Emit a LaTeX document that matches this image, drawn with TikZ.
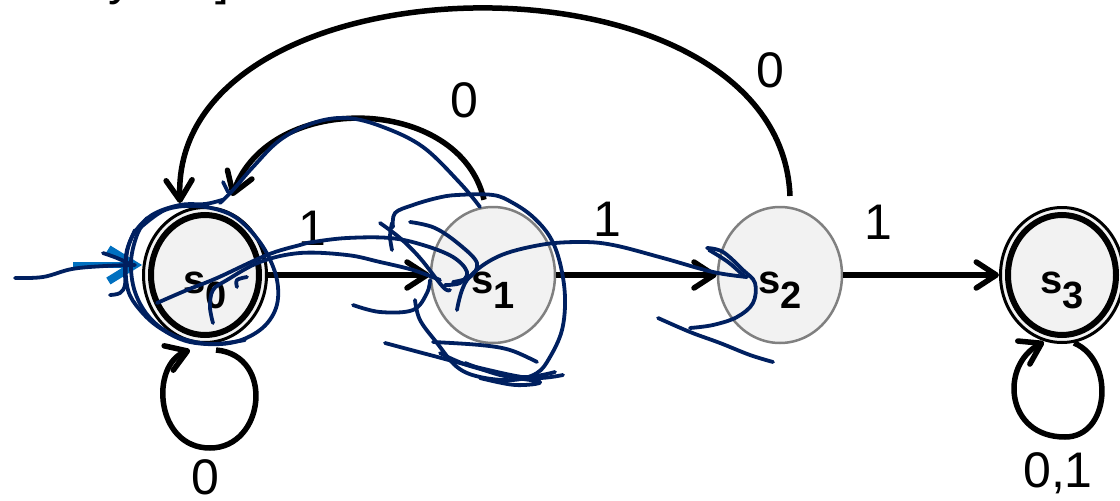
\documentclass[tikz,border=0pt]{standalone}
\usepackage{fontspec}
\setmainfont{Liberation Sans}
\usetikzlibrary{arrows.meta,shapes.geometric}
\definecolor{stfill}{HTML}{F2F2F2}
\definecolor{stgray}{HTML}{808080}
\definecolor{navy}{HTML}{002060}
\definecolor{startblue}{HTML}{0070C0}
\begin{document}
\begin{tikzpicture}[x=1pt,y=-1pt,
  plainstate/.style={ellipse, minimum width=124pt, minimum height=136pt, inner sep=0pt, draw=stgray, line width=2.5pt, fill=stfill},
  acceptstate/.style={ellipse, minimum width=123pt, minimum height=135pt, inner sep=0pt, draw=black, line width=3pt, fill=stfill},
  innerring/.style={draw=black, line width=6pt},
  statelbl/.style={font=\bfseries\fontsize{40}{40}\selectfont, inner sep=0pt},
  edgelbl/.style={font=\fontsize{50}{50}\selectfont, inner sep=0pt},
  edge/.style={line width=5.5pt, -{Straight Barb[length=20pt,width=26pt,round]}},
  scrib/.style={navy, line width=3.8pt, line cap=round, line join=round},
]
\useasboundingbox (0,0) rectangle (1120,501);
\clip (0,0) rectangle (1120,501);

% fragments of text cut off at the top
\node[edgelbl, anchor=base] (fy) at (121,-6) {y};
\node[edgelbl, anchor=base] (fb) at (222,-6) {]};

% states
\node[acceptstate] (s0) at (205,275) {};
\node[plainstate]  (s1) at (493,275) {};
\node[plainstate]  (s2) at (780,275) {};
\node[acceptstate] (s3) at (1062,275) {};
\draw[innerring] (s0.center) ellipse [x radius=54pt, y radius=60pt];
\draw[innerring] (s3.center) ellipse [x radius=54pt, y radius=60pt];

\node[statelbl] (l0) at ([yshift=-15pt]s0.center) {s\raisebox{-15pt}{\fontsize{38}{38}\selectfont 0}};
\node[statelbl] (l1) at ([yshift=-15pt]s1.center) {s\raisebox{-15pt}{\fontsize{38}{38}\selectfont 1}};
\node[statelbl] (l2) at ([yshift=-15pt]s2.center) {s\raisebox{-15pt}{\fontsize{38}{38}\selectfont 2}};
\node[statelbl] (l3) at ([yshift=-15pt]s3.center) {s\raisebox{-15pt}{\fontsize{38}{38}\selectfont 3}};

% transitions
\draw[edge] (s0) -- (s1);
\draw[edge] (s1) -- (s2);
\draw[edge] (s2) -- (s3);
\draw[edge] ([xshift=-9pt,yshift=6pt]s1.north) .. controls (460,95) and (270,90) .. ([xshift=27pt,yshift=79pt]s0.center);
\draw[edge] ([xshift=10pt,yshift=79pt]s2.center) .. controls (780,-60) and (170,-50) .. ([xshift=-25pt,yshift=72pt]s0.center);
\draw[edge] ([xshift=11pt,yshift=-75pt]s0.center) .. controls (275,355) and (265,448) .. (210,448) .. controls (155,448) and (150,365) .. ([xshift=-15pt,yshift=-75pt]s0.center);
\draw[edge] ([xshift=12pt,yshift=-68pt]s3.center) .. controls (1115,360) and (1110,437) .. (1065,437) .. controls (1005,437) and (1000,365) .. ([xshift=-18pt,yshift=-67pt]s3.center);

% transition labels
\node[edgelbl] (e01) at (312,228) {1};
\node[edgelbl] (e12) at (607,219) {1};
\node[edgelbl] (e23) at (878,222) {1};
\node[edgelbl] (e10) at (464,100) {0};
\node[edgelbl] (e20) at (770,70) {0};
\node[edgelbl] (e00) at (205,477) {0};
\node[edgelbl] (e33) at (1058,473) {0,1};

% initial arrow
\coordinate (init) at (73,265);
\draw[startblue, line width=6pt, -{Straight Barb[length=26pt,width=32pt,line width=8pt]}] (init) -- ([yshift=10pt]s0.west);

% handwritten scribbles
\draw[scrib] plot[smooth, tension=0.6] coordinates {(15,278) (43,277) (72,269) (105,266) (135,265)};
\draw[scrib] plot[smooth, tension=0.6] coordinates {(103,253) (117,258) (130,264)};
\draw[scrib] plot[smooth, tension=0.6] coordinates {(110,295) (120,293) (125,285) (125,270) (127,250) (135,230)};
\draw[scrib] plot[smooth, tension=0.6] coordinates {(222,200) (205,204) (180,205) (152,215) (133,235) (126,260) (128,290) (140,310) (160,328) (190,342) (230,343) (260,330) (276,308) (277,280) (265,250) (245,225) (225,212) (195,206) (165,210) (140,228)};
\draw[scrib] plot[smooth, tension=0.6] coordinates {(147,218) (137,235) (131,262) (135,292) (150,318) (175,336) (210,344) (245,340)};
\draw[scrib] plot[smooth, tension=0.6] coordinates {(157,303) (187,290) (217,278) (267,255) (300,245) (313,242) (347,238) (390,238) (423,245) (453,257) (467,272) (460,283) (445,285)};
\draw[scrib] plot[smooth, tension=0.6] coordinates {(213,323) (210,307) (213,290) (227,280) (260,262) (300,253) (347,255) (380,262) (413,270) (440,280)};
\draw[scrib] plot[smooth, tension=0.6] coordinates {(237,287) (237,280) (247,277)};
\draw[scrib] plot[smooth, tension=0.6] coordinates {(480,207) (460,183) (423,147) (383,127) (347,118) (313,123) (280,140) (253,167) (233,190) (220,203)};
\draw[scrib] plot[smooth, tension=0.6] coordinates {(223,182) (228,192)};
\draw[scrib] plot[smooth, tension=0.6] coordinates {(393,227) (395,213) (413,205) (437,198) (457,195) (493,195) (513,203) (533,217) (550,237) (560,263) (565,297) (562,330) (550,357) (537,373) (513,380) (480,377) (457,367) (437,343) (420,320) (415,300)};
\draw[scrib] plot[smooth, tension=0.6] coordinates {(392,223) (390,236) (392,250)};
\draw[scrib] plot[smooth, tension=0.6] coordinates {(385,343) (430,355) (480,368) (530,378) (563,375)};
\draw[scrib] plot[smooth, tension=0.6] coordinates {(433,342) (480,345) (510,350) (537,362)};
\draw[scrib] plot[smooth, tension=0.6] coordinates {(440,353) (470,366) (520,377) (555,372)};
\draw[scrib] plot[smooth, tension=0.6] coordinates {(465,363) (500,375) (540,382) (515,385) (480,378)};
\draw[scrib] plot[smooth, tension=0.6] coordinates {(353,305) (380,312) (413,310) (427,293) (430,280)};
\draw[scrib] plot[smooth, tension=0.6] coordinates {(380,223) (400,238) (420,258) (443,287) (450,290)};
\draw[scrib] plot[smooth, tension=0.6] coordinates {(410,222) (435,228) (460,245) (477,263) (470,277) (453,282)};
\draw[scrib] plot[smooth, tension=0.6] coordinates {(457,310) (467,280) (497,257) (540,245) (580,242) (613,245) (663,258) (713,272) (747,277)};
\draw[scrib] plot[smooth, tension=0.6] coordinates {(707,248) (723,252) (743,270) (755,283) (753,303) (737,317) (713,325) (690,328)};
\draw[scrib] plot[smooth, tension=0.6] coordinates {(709,250) (728,262) (745,277)};
\draw[scrib] plot[smooth, tension=0.6] coordinates {(658,318) (690,332) (720,343) (750,355) (773,362)};
\end{tikzpicture}
\end{document}
